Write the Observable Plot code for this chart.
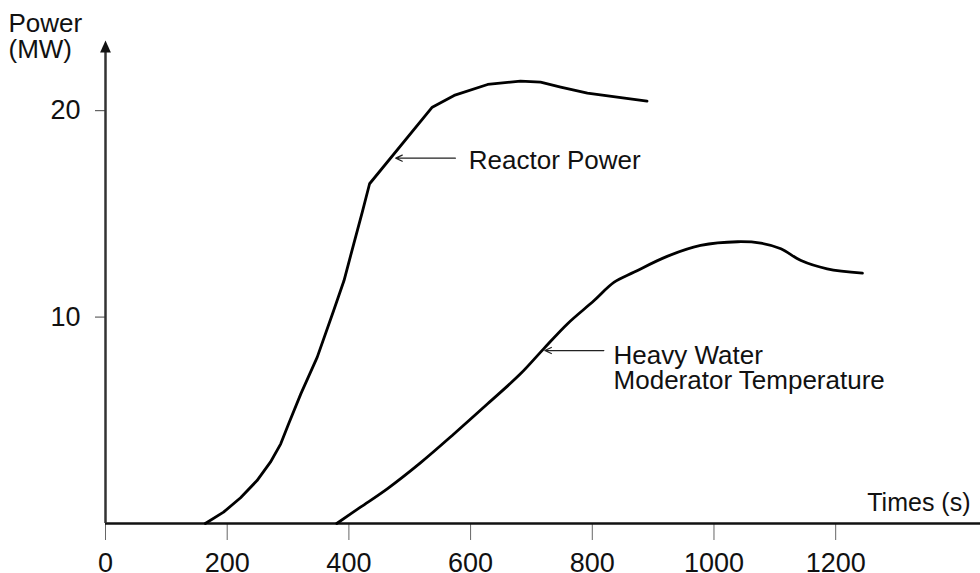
<!DOCTYPE html>
<html><head><meta charset="utf-8">
<script src="https://cdn.jsdelivr.net/npm/d3@7"></script>
<script src="https://cdn.jsdelivr.net/npm/@observablehq/plot@0.6"></script>
<style>body{margin:0;background:#fff;} svg{display:block;}</style>
</head><body><div id="chart"></div>
<script>
// Reactor power (MW) vs time (s)
const reactorTime  = [164, 194, 222, 249, 271, 288, 301, 321, 348, 375, 392, 408, 422, 434, 537, 573, 628, 682, 715, 748, 792, 847, 890];
const reactorPower = [0, 0.55, 1.25, 2.08, 2.97, 3.86, 4.83, 6.28, 8.06, 10.32, 11.77, 13.55, 15.08, 16.46, 20.17, 20.74, 21.27, 21.43, 21.38, 21.14, 20.85, 20.63, 20.46];
// Heavy water moderator temperature (on same axis)
const moderatorTime  = [380, 419, 463, 518, 573, 628, 682, 720, 759, 803, 836, 869, 923, 978, 1039, 1077, 1110, 1143, 1186, 1244];
const moderatorValue = [0, 0.79, 1.68, 2.95, 4.35, 5.8, 7.25, 8.46, 9.67, 10.8, 11.69, 12.18, 12.94, 13.47, 13.65, 13.58, 13.31, 12.74, 12.34, 12.13];

const xTicks = [0, 200, 400, 600, 800, 1000, 1200];
const yTicks = [10, 20];
const xMax = 1438;
const yMax = 23.4;

// annotation labels with arrows (data coordinates)
const labels = [
  {text: "Reactor Power", x: 597, y: 17.19, ax1: 575, ax2: 477, ay: 17.7},
  {text: "Heavy Water\nModerator Temperature", x: 835, y: 6.54, ax1: 819, ax2: 722, ay: 8.38}
];

const reactor = reactorTime.map((t, i) => ({t, v: reactorPower[i]}));
const moderator = moderatorTime.map((t, i) => ({t, v: moderatorValue[i]}));

const arrowHead = {
  draw(ctx, size) {
    const r = Math.sqrt(size / Math.PI);
    ctx.moveTo(0, 0);
    ctx.lineTo(0.9 * r, 2 * r);
    ctx.lineTo(-0.9 * r, 2 * r);
    ctx.closePath();
  }
};

const font = "'Liberation Sans', Arial, Helvetica, sans-serif";

const chart = Plot.plot({
  width: 980,
  height: 573,
  marginLeft: 105,
  marginRight: 0,
  marginTop: 40,
  marginBottom: 50,
  style: {fontFamily: font, background: "#fff", color: "#111"},
  x: {domain: [0, xMax]},
  y: {domain: [0, yMax]},
  marks: [
    Plot.axisX(xTicks, {tickSize: 17, tickPadding: 12, fontSize: 27, stroke: "#666", fill: "#111", label: null, tickFormat: d => String(d)}),
    Plot.axisY(yTicks, {tickSize: 10, tickPadding: 15, fontSize: 27, stroke: "#444", fill: "#111", label: null, tickFormat: d => String(d)}),
    Plot.ruleY([0], {stroke: "#111", strokeWidth: 2.5}),
    Plot.ruleX([0], {y1: 0, y2: yMax - 0.3, stroke: "#333", strokeWidth: 2.5}),
    Plot.dot([0], {x: 0, y: yMax, symbol: arrowHead, r: 6, fill: "#111", stroke: "none"}),
    Plot.line(reactor, {x: "t", y: "v", stroke: "#000", strokeWidth: 2.8, curve: "linear"}),
    Plot.line(moderator, {x: "t", y: "v", stroke: "#000", strokeWidth: 2.8, curve: "catmull-rom"}),
    Plot.arrow(labels, {x1: "ax1", x2: "ax2", y1: "ay", y2: "ay", stroke: "#222", strokeWidth: 1.2, headLength: 9, headAngle: 50}),
    Plot.text(labels, {x: "x", y: "y", text: "text", textAnchor: "start", lineAnchor: "bottom", lineHeight: 0.96, fontSize: 26, fill: "#111"}),
    Plot.text([0], {frameAnchor: "top-left", text: () => "Power\n(MW)", textAnchor: "start", lineAnchor: "top", lineHeight: 1, dx: -97, dy: -27, fontSize: 26, fill: "#111"}),
    Plot.text([0], {frameAnchor: "bottom-right", text: () => "Times (s)", textAnchor: "end", lineAnchor: "bottom", dx: -10, dy: -13, fontSize: 25, fill: "#111"})
  ]
});
document.getElementById("chart").appendChild(chart);
</script>
</body></html>
